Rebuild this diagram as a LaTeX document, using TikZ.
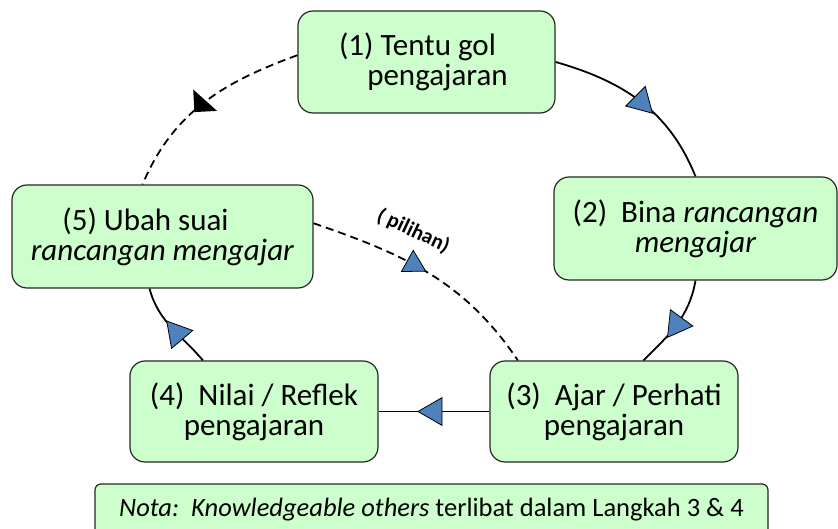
\documentclass[tikz,border=0pt]{standalone}
\usepackage{fontspec}
\setmainfont{Carlito}
\usetikzlibrary{shapes.geometric}
\definecolor{boxgreen}{RGB}{204,255,204}
\definecolor{triblue}{RGB}{79,129,189}

\begin{document}
\begin{tikzpicture}[x=1pt,y=1pt]
			\tikzstyle{stepbox}=[draw=black!85,fill=boxgreen,rounded corners=15pt,line width=1.2pt,align=center,font=\fontsize{31}{30}\selectfont,inner sep=0pt]
			\tikzstyle{notebox}=[draw=black!85,fill=boxgreen,rounded corners=6pt,line width=1.2pt,font=\fontsize{26.5}{30}\selectfont,inner sep=0pt]
			\tikzstyle{bluetri}=[regular polygon,regular polygon sides=3,draw=black,fill=triblue,line width=0.8pt,minimum size=32pt,inner sep=0pt]
			\tikzstyle{blacktri}=[isosceles triangle,isosceles triangle apex angle=90,fill=black,minimum height=16pt,inner sep=0pt]
			\tikzstyle{link}=[line width=1.8pt]
			\tikzstyle{optlink}=[line width=1.8pt,dash pattern=on 8pt off 5pt]
			\useasboundingbox (0,0) rectangle (838,529);
				\node[stepbox,minimum width=257pt,minimum height=102pt](n1) at (426.5,467){(1) Tentu gol\hspace*{18pt}\\\hspace*{22pt}pengajaran};
				\node[stepbox,minimum width=283pt,minimum height=103pt](n2) at (695.5,300.5){(2)\ \ Bina \textit{rancangan}\\\textit{mengajar}};
				\node[stepbox,minimum width=248pt,minimum height=101pt](n3) at (614,117.5){(3)\ \ Ajar / Perhati\\pengajaran};
				\node[stepbox,minimum width=248pt,minimum height=101pt](n4) at (254,117.5){(4)\ \ Nilai / Reflek\\pengajaran};
				\node[stepbox,minimum width=301pt,minimum height=103pt](n5) at (162.5,292.5){(5) Ubah suai\hspace*{34pt}\\\textit{rancangan mengajar}};
				\node[notebox,minimum width=673pt,minimum height=51pt](nota) at (431.5,19.5){\textit{Nota:\ \ Knowledgeable others} terlibat dalam Langkah 3 \& 4};
				\path[link]
					(n1.east) edge[out=-16,in=112] node[bluetri,pos=0.5,rotate=-135] {} (n2.north)
					(n2.south) edge[out=-100,in=45] node[bluetri,pos=0.5,rotate=-96] {} (n3.60)
					(n3.west) edge node[bluetri,pos=0.5,rotate=90] {} (n4.east)
					(n4.135) edge[out=130,in=-75] node[bluetri,pos=0.4,rotate=-80] {} (n5.-104);
				\path[optlink]
					(n5.5) edge[out=-19,in=124] node[bluetri,pos=0.42,rotate=-119,minimum size=28pt,solid] {}
						node[pos=0.36,rotate=-25,above=16pt,font=\bfseries\fontsize{21}{24}\selectfont] {( pilihan)} (n3.152)
					(n1.177) edge[out=200,in=67] node[blacktri,pos=0.52,rotate=-132] {} (n5.111);
			\end{tikzpicture}
\end{document}
